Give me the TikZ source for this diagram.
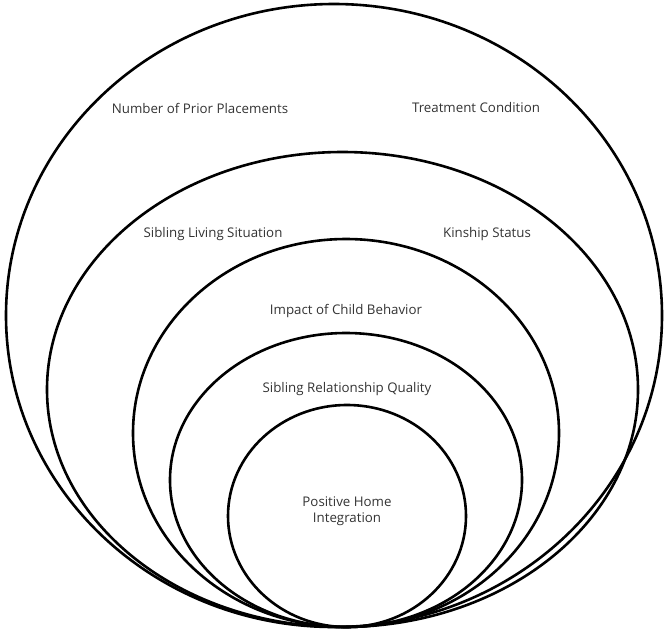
\documentclass[tikz,border=0pt]{standalone}
\usepackage{fontspec}
\setmainfont{Open Sans}
\usepackage{tikz}
\usetikzlibrary{positioning}
\definecolor{labelgray}{HTML}{333333}

\begin{document}
\begin{tikzpicture}[x=1pt,y=-1pt,
ring/.style={draw=black,line width=2.6pt},
lbl/.style={inner sep=0pt,text=labelgray,font=\fontsize{13.3}{16}\selectfont,align=center}]
\useasboundingbox (0,0) rectangle (664,630);
% nested rings, all touching at the bottom
\draw[ring] (334,315.5) ellipse [x radius=328pt,y radius=311.5pt];
\draw[ring] (342.5,389.5) ellipse [x radius=295.5pt,y radius=237.5pt];
\draw[ring] (346,433) ellipse [x radius=213pt,y radius=194pt];
\draw[ring] (346,480) ellipse [x radius=176pt,y radius=147pt];
\draw[ring] (347,516) ellipse [x radius=119pt,y radius=111pt];
% labels
\node[lbl] (prior) at (200,108) {Number of Prior Placements};
\node[lbl] (treat) at (476,108) {Treatment Condition};
\node[lbl] (living) at (213,234) {Sibling Living Situation};
\node[lbl] (kin) at (487,234) {Kinship Status};
\node[lbl] (impact) at (346,311) {Impact of Child Behavior};
\node[lbl] (quality) at (347,389) {Sibling Relationship Quality};
\node[lbl] (home) at (347,511) {Positive Home\\Integration};
\end{tikzpicture}
\end{document}
